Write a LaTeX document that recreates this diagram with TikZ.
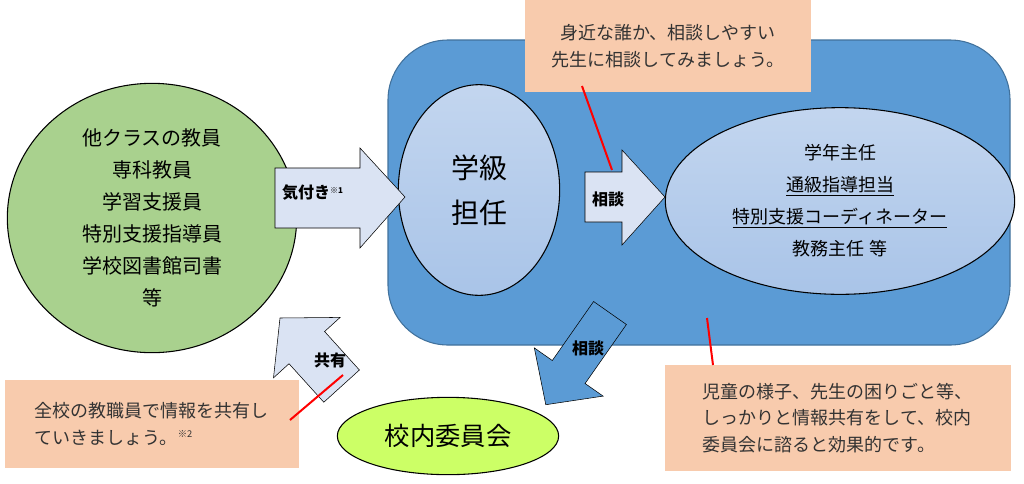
\documentclass[tikz,border=0pt]{standalone}
\usepackage{fontspec}
\setmainfont{Noto Sans CJK JP}
\usetikzlibrary{shapes.geometric}
\definecolor{grn}{HTML}{A9D18E}
\definecolor{bbg}{HTML}{5B9BD5}
\definecolor{bbd}{HTML}{41719C}
\definecolor{lb}{HTML}{A9C4E8}
\definecolor{ab}{HTML}{DAE3F3}
\definecolor{org}{HTML}{F8CBAD}
\definecolor{lime}{HTML}{CCFF66}
\tikzset{
  note/.style={fill=org,draw=none,align=left,font=\fontsize{13.5}{20}\selectfont,text=black!80,inner sep=8pt,anchor=north west},
  arrowshape/.style={draw=black,thin,fill=ab},
  alabel/.style={font=\bfseries\fontsize{12}{14}\selectfont,inner sep=1pt},
  redl/.style={red,line width=1.5pt}
}
\begin{document}
\begin{tikzpicture}[x=0.75pt,y=-0.75pt]
\useasboundingbox (0,0) rectangle (1024,483);
% blue box
\draw[bbd,fill=bbg,thick,rounded corners=45pt] (388,40) rectangle (1010,345);
% green circle
\node (green) [ellipse,draw,thick,fill=grn,minimum width=217pt,minimum height=202pt,align=center,font=\fontsize{15}{24}\selectfont] at (152,218) {他クラスの教員\\専科教員\\学習支援員\\特別支援指導員\\学校図書館司書\\等};
% class teacher
\node (tan) [ellipse,draw,thick,top color=lb!70,bottom color=lb,minimum width=121pt,minimum height=158pt,align=center,font=\fontsize{21}{34}\selectfont] at (479,190) {学級\\担任};
% right ellipse
\node (right) [ellipse,draw,thick,top color=lb!70,bottom color=lb,minimum width=262pt,minimum height=140pt,align=center,font=\fontsize{13.5}{24}\selectfont] at (840,201) {学年主任\\\underline{通級指導担当}\\\underline{特別支援コーディネーター}\\教務主任\ 等};
% committee
\node (iin) [ellipse,draw,thick,fill=lime,minimum width=166pt,minimum height=58pt,font=\fontsize{19}{22}\selectfont] at (448,436) {校内委員会};
% arrows
\draw[arrowshape] (275,168)--(360,168)--(360,148)--(405,197)--(360,248)--(360,228)--(275,228)--cycle;
\node (a1) [alabel] at (313,193) {気付き\textsuperscript{\fontsize{6}{6}\selectfont ※1}};
\draw[arrowshape] (585,172)--(622,172)--(622,150)--(665,197)--(622,245)--(622,222)--(585,222)--cycle;
\node (a2) [alabel] at (608,199) {相談};
\draw[arrowshape,fill=bbg] (626.4,324.5)--(585.1,383.5)--(603.1,396.1)--(545.8,404.7)--(534.3,347.9)--(552.3,360.5)--(593.6,301.5)--cycle;
\node (a3) [alabel] at (588,348) {相談};
\draw[arrowshape] (359.4,370)--(324.6,331.5)--(340.1,317.4)--(280,318)--(273.5,377.8)--(289,363.7)--(323.8,402.2)--cycle;
\node (a4) [alabel] at (330,360) {共有};
% notes
\node (n1) [note,minimum width=214pt,minimum height=69pt,align=center] at (525,0) {身近な誰か、相談しやすい\\先生に相談してみましょう。};
\node (n2) [note,minimum width=220pt,minimum height=66pt] at (5,380) {全校の教職員で情報を共有し\\ていきましょう。\textsuperscript{\fontsize{7}{7}\selectfont ※2}};
\node (n3) [note,minimum width=259pt,minimum height=79pt] at (665,365) {児童の様子、先生の困りごと等、\\しっかりと情報共有をして、校内\\委員会に諮ると効果的です。};
% red lines
\coordinate (r1a) at (582,86); \coordinate (r1b) at (612,170);
\coordinate (r2a) at (290,420); \coordinate (r2b) at (343,375);
\coordinate (r3a) at (707,318); \coordinate (r3b) at (713,365);
\draw[redl] (r1a)--(r1b);
\draw[redl] (r2a)--(r2b);
\draw[redl] (r3a)--(r3b);
\end{tikzpicture}
\end{document}
